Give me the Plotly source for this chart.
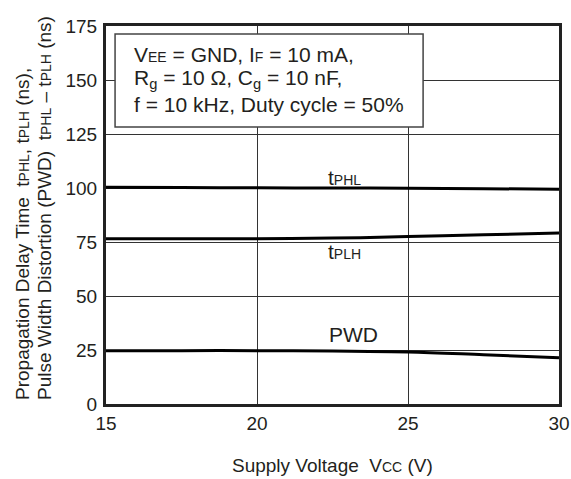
import plotly.graph_objects as go

vcc = [15, 17.5, 20, 22.5, 25, 27.5, 30]
tphl = [100.3, 100.2, 100.1, 100.0, 99.9, 99.7, 99.4]
tplh = [76.5, 76.5, 76.5, 76.8, 77.5, 78.3, 79.2]
pwd = [24.7, 24.7, 24.7, 24.5, 24.1, 22.8, 21.4]

x_ticks = [15, 20, 25, 30]
y_ticks = [0, 25, 50, 75, 100, 125, 150, 175]

box_lines = [
    "V<span style='font-size:14px'>EE</span> = GND, I<span style='font-size:14px'>F</span> = 10 mA,",
    "R<sub>g</sub> = 10 Ω, C<sub>g</sub> = 10 nF,",
    "f = 10 kHz, Duty cycle = 50%",
]

FONT = "Liberation Sans, Arial, sans-serif"
FS = 19
FA = 21
SMALL = "font-size:14px"
TXT = "#231f20"

W, H = 571, 479
L, R, T, B = 106, 12, 26, 75
PW, PH = W - L - R, H - T - B

def px_x(p):
    return (p - L) / PW

def px_y(p):
    return (H - B - p) / PH

fig = go.Figure()
for ys in (tphl, tplh, pwd):
    fig.add_trace(go.Scatter(x=vcc, y=ys, mode="lines",
                             line=dict(color="black", width=3, shape="spline"),
                             showlegend=False, hoverinfo="skip"))

fig.update_layout(
    width=W, height=H,
    margin=dict(l=L, r=R, t=T, b=B, autoexpand=False),
    paper_bgcolor="white", plot_bgcolor="white",
    font=dict(family=FONT, size=FS, color=TXT),
    xaxis=dict(range=[15, 30], tickvals=x_ticks, ticktext=[str(v) for v in x_ticks],
               showgrid=True, gridcolor="#333", gridwidth=1,
               showline=True, linecolor="#222", linewidth=3, mirror=True,
               zeroline=False, ticks="", ticklabelstandoff=0, automargin=False),
    yaxis=dict(range=[0, 175], tickvals=y_ticks, ticktext=[str(v) for v in y_ticks],
               showgrid=True, gridcolor="#333", gridwidth=1,
               showline=True, linecolor="#222", linewidth=3, mirror=True,
               zeroline=False, ticks="", ticklabelstandoff=2, automargin=False),
)

fig.add_shape(type="rect", xref="x", yref="y", x0=15.3, x1=25.5, y0=128.2, y1=171.3,
              fillcolor="white", line=dict(color="#444", width=1.5), layer="above")

for txt, yp in zip(box_lines, [54, 79, 104]):
    fig.add_annotation(x=px_x(132), y=px_y(yp), xref="paper", yref="paper", text=txt,
                       showarrow=False, xanchor="left", yanchor="middle", align="left",
                       font=dict(size=FA, color=TXT, family=FONT))

fig.add_annotation(x=22.9, y=105, xref="x", yref="y",
                   text=f"t<span style='{SMALL}'>PHL</span>", showarrow=False,
                   font=dict(size=FA, color=TXT, family=FONT))
fig.add_annotation(x=22.9, y=70.5, xref="x", yref="y",
                   text=f"t<span style='{SMALL}'>PLH</span>", showarrow=False,
                   font=dict(size=FA, color=TXT, family=FONT))
fig.add_annotation(x=23.2, y=32, xref="x", yref="y",
                   text="PWD", showarrow=False,
                   font=dict(size=FA, color=TXT, family=FONT))

# axis titles
fig.add_annotation(x=0.5, y=px_y(465), xref="paper", yref="paper", yanchor="middle",
                   text=f"Supply Voltage  V<span style='{SMALL}'>CC</span> (V)", showarrow=False,
                   font=dict(size=FS, color=TXT, family=FONT))
fig.add_annotation(x=px_x(22), y=px_y(402), xref="paper", yref="paper",
                   xanchor="center", yanchor="bottom", textangle=-90,
                   text=f"Propagation Delay Time  t<span style='{SMALL}'>PHL</span>, t<span style='{SMALL}'>PLH</span> (ns),",
                   showarrow=False, font=dict(size=FS, color=TXT, family=FONT))
fig.add_annotation(x=px_x(44), y=px_y(402), xref="paper", yref="paper",
                   xanchor="center", yanchor="bottom", textangle=-90,
                   text=f"Pulse Width Distortion (PWD)  t<span style='{SMALL}'>PHL</span> – t<span style='{SMALL}'>PLH</span> (ns)",
                   showarrow=False, font=dict(size=FS, color=TXT, family=FONT))

fig.write_html("out.html", config={"displayModeBar": False},
               post_script="document.body.style.margin='0';")
